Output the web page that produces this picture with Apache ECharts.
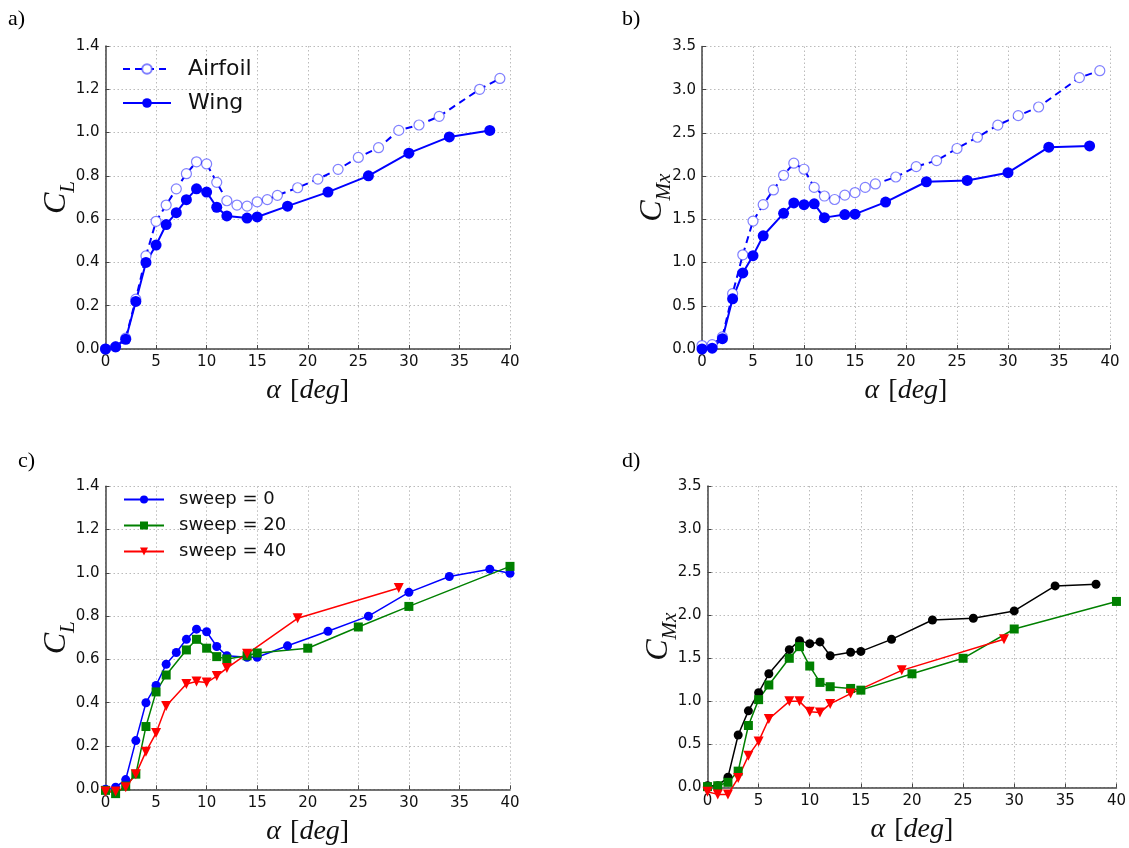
<!DOCTYPE html>
<html>
<head>
<meta charset="utf-8">
<script src="https://cdn.jsdelivr.net/npm/echarts@6/dist/echarts.min.js"></script>
<style>
html,body{margin:0;padding:0;background:#fff;}
#chart{width:1129px;height:848px;}
</style>
</head>
<body>
<div id="chart"></div>
<script>
// ---- data ----
const xTicksMin = 0, xTicksMax = 40, xTickStep = 5;

const aAirfoilAlpha = [0,1,2,3,4,5,6,7,8,9,10,11,12,13,14,15,16,17,19,21,23,25,27,29,31,33,37,39];
const aAirfoilCL    = [0.0,0.01,0.05,0.23,0.43,0.59,0.665,0.74,0.81,0.865,0.855,0.77,0.685,0.665,0.66,0.68,0.69,0.71,0.745,0.785,0.83,0.885,0.93,1.01,1.035,1.075,1.2,1.25];
const aWingAlpha = [0,1,2,3,4,5,6,7,8,9,10,11,12,14,15,18,22,26,30,34,38];
const aWingCL    = [0.0,0.01,0.045,0.22,0.40,0.48,0.575,0.63,0.69,0.74,0.725,0.655,0.615,0.605,0.61,0.66,0.725,0.80,0.905,0.98,1.01];

const bAirfoilAlpha = [0,1,2,3,4,5,6,7,8,9,10,11,12,13,14,15,16,17,19,21,23,25,27,29,31,33,37,39];
const bAirfoilCMx   = [0.04,0.05,0.14,0.64,1.09,1.48,1.67,1.84,2.01,2.15,2.08,1.87,1.77,1.73,1.78,1.81,1.87,1.91,1.99,2.11,2.18,2.32,2.45,2.59,2.70,2.80,3.14,3.22];
const bWingAlpha = [0,1,2,3,4,5,6,8,9,10,11,12,14,15,18,22,26,30,34,38];
const bWingCMx   = [0.0,0.01,0.12,0.58,0.88,1.08,1.31,1.57,1.69,1.67,1.68,1.52,1.555,1.56,1.70,1.935,1.95,2.04,2.335,2.35];

const cSweep0Alpha  = [0,1,2,3,4,5,6,7,8,9,10,11,12,14,15,18,22,26,30,34,38,40];
const cSweep0CL     = [0.0,0.01,0.045,0.225,0.40,0.48,0.578,0.632,0.693,0.74,0.728,0.66,0.617,0.61,0.61,0.663,0.73,0.80,0.91,0.983,1.017,0.998];
const cSweep20Alpha = [0,1,2,3,4,5,6,8,9,10,11,12,14,15,20,25,30,40];
const cSweep20CL    = [-0.005,-0.02,0.015,0.07,0.29,0.45,0.528,0.644,0.693,0.652,0.613,0.602,0.617,0.63,0.652,0.75,0.845,1.03];
const cSweep40Alpha = [0,1,2,3,4,5,6,8,9,10,11,12,14,19,29];
const cSweep40CL    = [-0.01,-0.01,0.01,0.07,0.174,0.26,0.385,0.487,0.498,0.493,0.523,0.56,0.626,0.79,0.93];

const dSweep0Alpha  = [0,1,2,3,4,5,6,8,9,10,11,12,14,15,18,22,26,30,34,38];
const dSweep0CMx    = [0.02,0.02,0.12,0.61,0.89,1.10,1.32,1.60,1.705,1.67,1.69,1.53,1.57,1.58,1.72,1.945,1.965,2.05,2.34,2.36];
const dSweep20Alpha = [0,1,2,3,4,5,6,8,9,10,11,12,14,15,20,25,30,40];
const dSweep20CMx   = [0.01,0.02,0.06,0.19,0.72,1.02,1.19,1.50,1.635,1.41,1.22,1.17,1.15,1.13,1.32,1.50,1.84,2.16];
const dSweep40Alpha = [0,1,2,3,4,5,6,8,9,10,11,12,14,19,29];
const dSweep40CMx   = [-0.05,-0.08,-0.08,0.11,0.37,0.535,0.795,1.0,1.0,0.88,0.87,0.97,1.09,1.36,1.72];

const panelLabels = ['a)','b)','c)','d)'];
const legendA = ['Airfoil','Wing'];
const legendC = ['sweep = 0','sweep = 20','sweep = 40'];

// ---- helpers ----
const zip = (xs, ys) => xs.map((x, i) => [x, ys[i]]);
const SANS = '"DejaVu Sans", sans-serif';
const SERIF = '"Liberation Serif", "DejaVu Serif", serif';

const grids = [
  {left:105.5, top:46, width:404.5, height:303},
  {left:702, top:46.5, width:408, height:302.5},
  {left:105.5, top:486.3, width:404.5, height:303},
  {left:707.5, top:486, width:410, height:301.5}
];

function xAxisDef(i){
  return {
    type:'value', gridIndex:i, min:xTicksMin, max:xTicksMax, interval:xTickStep,
    axisLine:{show:true, onZero:false, lineStyle:{color:'#444', width:1.5}},
    axisTick:{show:true, inside:true, length:4, lineStyle:{color:'#444'}},
    axisLabel:{fontFamily:SANS, fontSize:15, color:'#111', margin:6},
    splitLine:{show:true, lineStyle:{color:'#bbb', type:[1.5,2.5], width:1}},
    name:'{a|α}{b|[}{d|deg}{b|]}', nameLocation:'middle', nameGap:28,
    nameTextStyle:{rich:{
      a:{fontFamily:SERIF, fontStyle:'italic', fontSize:28, color:'#111', padding:[0,9,0,0]},
      d:{fontFamily:SERIF, fontStyle:'italic', fontSize:28, color:'#111'},
      b:{fontFamily:SERIF, fontSize:28, color:'#111'}
    }}
  };
}
function yAxisDef(i, max, step, sub){
  return {
    type:'value', gridIndex:i, min:0, max:max, interval:step,
    axisLine:{show:true, onZero:false, lineStyle:{color:'#444', width:1.5}},
    axisTick:{show:true, inside:true, length:4, lineStyle:{color:'#444'}},
    axisLabel:{fontFamily:SANS, fontSize:15, color:'#111', margin:6, formatter:(v)=>v.toFixed(1)},
    splitLine:{show:true, lineStyle:{color:'#bbb', type:[1.5,2.5], width:1}},
    name:'{c|C}{s|' + sub + '}', nameLocation:'middle', nameGap:27, nameRotate:90,
    nameMoveOverlap:false,
    nameTextStyle:{rich:{
      c:{fontFamily:SERIF, fontStyle:'italic', fontSize:32, color:'#111', verticalAlign:'bottom', padding:[0,0,6,0], lineHeight:34},
      s:{fontFamily:SERIF, fontStyle:'italic', fontSize:21, color:'#111', verticalAlign:'bottom', lineHeight:22}
    }}
  };
}

function lineSeries(name, xi, data, color, symbol, size, opts){
  return Object.assign({
    name:name, type:'line', xAxisIndex:xi, yAxisIndex:xi, data:data,
    symbol:symbol, symbolSize:size, clip:false, animation:false,
    lineStyle:{color:color, width:1.5},
    itemStyle:{color:color}
  }, opts || {});
}

const series = [
  lineSeries('Airfoil', 0, zip(aAirfoilAlpha, aAirfoilCL), '#0000ff', 'circle', 10, {
    lineStyle:{color:'#0000ff', width:2, type:[7,5]},
    itemStyle:{color:'#ffffff', borderColor:'rgba(60,60,255,0.65)', borderWidth:1.2}
  }),
  lineSeries('Wing', 0, zip(aWingAlpha, aWingCL), '#0000ff', 'circle', 11, {lineStyle:{color:'#0000ff', width:2}}),
  lineSeries('Airfoil', 1, zip(bAirfoilAlpha, bAirfoilCMx), '#0000ff', 'circle', 10, {
    lineStyle:{color:'#0000ff', width:2, type:[7,5]},
    itemStyle:{color:'#ffffff', borderColor:'rgba(60,60,255,0.65)', borderWidth:1.2}
  }),
  lineSeries('Wing', 1, zip(bWingAlpha, bWingCMx), '#0000ff', 'circle', 11, {lineStyle:{color:'#0000ff', width:2}}),
  lineSeries('sweep = 0', 2, zip(cSweep0Alpha, cSweep0CL), '#0000ff', 'circle', 9),
  lineSeries('sweep = 20', 2, zip(cSweep20Alpha, cSweep20CL), '#008000', 'rect', 9),
  lineSeries('sweep = 40', 2, zip(cSweep40Alpha, cSweep40CL), '#ff0000', 'triangle', 10, {symbolRotate:180}),
  lineSeries('d0', 3, zip(dSweep0Alpha, dSweep0CMx), '#000000', 'circle', 9),
  lineSeries('d20', 3, zip(dSweep20Alpha, dSweep20CMx), '#008000', 'rect', 9),
  lineSeries('d40', 3, zip(dSweep40Alpha, dSweep40CMx), '#ff0000', 'triangle', 10, {symbolRotate:180})
];

const labelPos = [[8,8],[622,8],[18,450],[622,450]];
const option = {
  backgroundColor:'#ffffff',
  animation:false,
  grid: grids.map(g => Object.assign({containLabel:false}, g)),
  xAxis: [0,1,2,3].map(xAxisDef),
  yAxis: [yAxisDef(0,1.4,0.2,'L'), yAxisDef(1,3.5,0.5,'Mx'), yAxisDef(2,1.4,0.2,'L'), yAxisDef(3,3.5,0.5,'Mx')],
  legend: [
    {data:legendA, left:117, top:51, orient:'vertical', itemWidth:48, itemHeight:12, itemGap:8,
     textStyle:{fontFamily:SANS, fontSize:22, color:'#111', lineHeight:26, padding:[0,0,0,12]}, selectedMode:false},
    {data:legendC, left:118, top:484, orient:'vertical', itemWidth:40, itemHeight:10, itemGap:5,
     textStyle:{fontFamily:SANS, fontSize:18, color:'#111', lineHeight:21, padding:[0,0,0,10]}, selectedMode:false}
  ],
  graphic: panelLabels.map((t, i) => ({
    type:'text', left:labelPos[i][0], top:labelPos[i][1],
    style:{text:t, font:'22px "Liberation Serif", serif', fill:'#000'}
  })),
  series: series
};

const chart = echarts.init(document.getElementById('chart'), null, {renderer:'canvas'});
chart.setOption(option);
</script>
</body>
</html>
